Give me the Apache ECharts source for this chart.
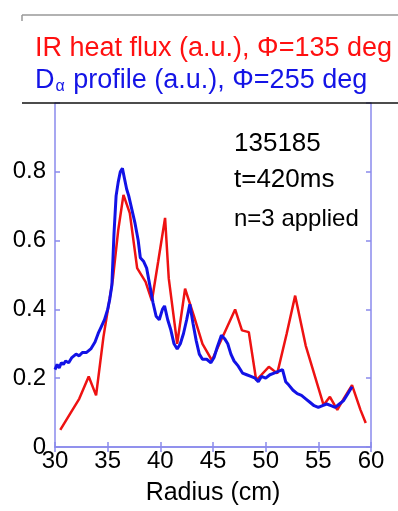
<!DOCTYPE html>
<html><head><meta charset="utf-8">
<script src="https://cdn.jsdelivr.net/npm/echarts@6/dist/echarts.min.js"></script>
<style>html,body{margin:0;padding:0;background:#fff}#c{width:398px;height:511px}</style>
</head><body><div id="c"></div>
<script>
var xTicks = [30, 35, 40, 45, 50, 55, 60];
var yTicks = [0, 0.2, 0.4, 0.6, 0.8];
var irRadius = [30.5,31.5,32.3,33.2,33.9,34.6,35.5,36.0,36.5,37.1,37.8,38.6,39.2,39.8,40.45,40.8,41.6,42.35,43.2,44.0,44.9,47.1,47.75,48.4,49.1,49.6,50.3,51.1,52.0,52.8,53.8,55.5,56.1,56.8,57.4,58.2,59.0,59.5];
var irFlux = [0.05,0.10,0.14,0.205,0.15,0.32,0.49,0.63,0.733,0.68,0.52,0.48,0.425,0.54,0.666,0.49,0.30,0.46,0.38,0.30,0.252,0.40,0.339,0.334,0.194,0.21,0.233,0.214,0.33,0.44,0.295,0.122,0.146,0.108,0.14,0.18,0.108,0.07];
var daRadius = [30.0,30.2,30.4,30.6,30.8,31.0,31.3,31.6,32.0,32.3,32.6,33.0,33.4,33.8,34.1,34.4,34.7,35.0,35.2,35.4,35.6,35.8,36.0,36.2,36.4,36.6,36.8,37.0,37.3,37.6,37.9,38.1,38.4,38.7,39.0,39.3,39.6,39.9,40.2,40.4,40.7,41.0,41.3,41.6,41.9,42.2,42.5,42.8,43.1,43.4,43.7,44.0,44.4,44.8,45.1,45.4,45.8,46.1,46.4,46.7,47.0,47.4,47.8,48.2,48.6,49.0,49.3,49.6,50.0,50.4,50.8,51.2,51.6,51.9,52.2,52.6,53.0,53.4,53.8,54.2,54.6,55.0,55.4,55.8,56.2,56.6,57.0,57.4,57.8,58.2];
var daProfile = [0.225,0.24,0.23,0.245,0.24,0.25,0.245,0.26,0.27,0.265,0.275,0.275,0.285,0.305,0.33,0.35,0.37,0.40,0.43,0.47,0.62,0.73,0.77,0.80,0.81,0.78,0.75,0.73,0.69,0.65,0.60,0.55,0.54,0.52,0.47,0.42,0.38,0.37,0.40,0.41,0.37,0.34,0.30,0.285,0.30,0.33,0.37,0.415,0.36,0.31,0.27,0.255,0.255,0.245,0.26,0.29,0.325,0.315,0.30,0.27,0.25,0.235,0.215,0.21,0.205,0.20,0.19,0.205,0.20,0.21,0.215,0.22,0.225,0.19,0.18,0.165,0.155,0.15,0.14,0.13,0.12,0.115,0.12,0.125,0.12,0.115,0.125,0.135,0.155,0.175];

function pairs(xs, ys){ return xs.map(function(x,i){return [x, ys[i]];}); }
var FONT = 'Liberation Sans';
var AX = '#8a8aec';
var chart = echarts.init(document.getElementById('c'));
var axisCommon = {
  type:'value', axisLine:{show:true, lineStyle:{color:AX, width:1.5}},
  axisTick:{show:true, inside:true, length:5, lineStyle:{color:AX, width:1.5}},
  splitLine:{show:false}
};
chart.setOption({
  animation:false,
  backgroundColor:'#fff',
  title:[
    {text:'IR heat flux (a.u.), Φ=135 deg', left:30, top:30, textStyle:{fontFamily:FONT, fontSize:27, fontWeight:'normal', color:'#ff1010'}},
    {text:'{d|D}{s|α}{d| profile (a.u.), Φ=255 deg}', left:30, top:62, textStyle:{fontWeight:'normal', rich:{
      d:{fontFamily:FONT, fontSize:27, fontWeight:'normal', color:'#1414e6'},
      s:{fontFamily:FONT, fontSize:16, fontWeight:'normal', color:'#1414e6', verticalAlign:'bottom', padding:[12,1,0,1]}}}}
  ],
  grid:{left:55, right:27, top:103, bottom:62},
  xAxis:[
    Object.assign({}, axisCommon, {min:30, max:60, interval:5, position:'bottom',
      axisLabel:{fontFamily:FONT, fontSize:24, color:'#000', margin:2},
      name:'Radius (cm)', nameLocation:'middle', nameGap:34,
      nameTextStyle:{fontFamily:FONT, fontSize:25, color:'#000'}}),
    Object.assign({}, axisCommon, {min:30, max:60, interval:5, position:'top', axisLabel:{show:false}})
  ],
  yAxis:[
    Object.assign({}, axisCommon, {min:0, max:1, interval:0.2, position:'left',
      axisLabel:{fontFamily:FONT, fontSize:24, color:'#000', margin:9,
        formatter:function(v){ return v >= 0.99 ? '' : (v === 0 ? '0' : v.toFixed(1)); }}}),
    Object.assign({}, axisCommon, {min:0, max:1, interval:0.2, position:'right', axisLabel:{show:false}})
  ],
  graphic:[
    {type:'line', shape:{x1:22, y1:103, x2:398, y2:103}, style:{stroke:'#111', lineWidth:1.5}, z:100},
    {type:'line', shape:{x1:22, y1:15, x2:398, y2:15}, style:{stroke:'#999', lineWidth:1.5}},
    {type:'line', shape:{x1:22, y1:15, x2:22, y2:21}, style:{stroke:'#999', lineWidth:1.5}},
    {type:'text', left:234, top:131, style:{text:'135185', font:'26px "Liberation Sans"', fill:'#000'}},
    {type:'text', left:234, top:167, style:{text:'t=420ms', font:'26px "Liberation Sans"', fill:'#000'}},
    {type:'text', left:234, top:207, style:{text:'n=3 applied', font:'24px "Liberation Sans"', fill:'#000'}}
  ],
  series:[
    {type:'line', data:pairs(irRadius, irFlux), symbol:'none', lineStyle:{color:'#ee1212', width:2.5}, z:2},
    {type:'line', data:pairs(daRadius, daProfile), symbol:'none', lineStyle:{color:'#1212e6', width:3}, z:3}
  ]
});
</script></body></html>
